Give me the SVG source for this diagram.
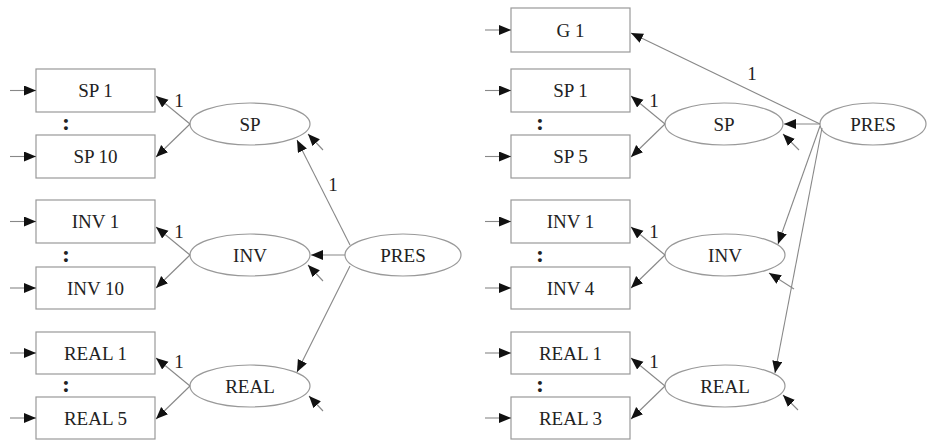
<svg xmlns="http://www.w3.org/2000/svg" width="930" height="441" viewBox="0 0 930 441">
<style>
.box{fill:#fff;stroke:#999;stroke-width:1.2}
.ell{fill:#fff;stroke:#999;stroke-width:1.2}
.t{font-family:"Liberation Serif","Times New Roman",serif;font-size:19px;fill:#222;text-anchor:middle;dominant-baseline:central}
.d{font-family:"Liberation Serif","Times New Roman",serif;font-size:24px;font-weight:bold;fill:#222;text-anchor:middle;dominant-baseline:central}
.c{stroke:#888;stroke-width:1.1;fill:none;marker-end:url(#ah)}
</style>
<defs>
<marker id="ah" markerUnits="userSpaceOnUse" markerWidth="14" markerHeight="11" refX="12" refY="5" orient="auto">
<path d="M0,0 L12,5 L0,10 Z" fill="#111"/>
</marker>
</defs>
<rect width="930" height="441" fill="#fff"/>
<!-- left boxes -->
<g id="L_SP1"><rect class="box" x="36" y="69" width="119" height="43"/><text class="t" x="95.5" y="90.5">SP 1</text></g>
<g id="L_SP10"><rect class="box" x="36" y="135" width="119" height="43"/><text class="t" x="95.5" y="156.5">SP 10</text></g>
<g id="L_INV1"><rect class="box" x="36" y="200" width="119" height="43"/><text class="t" x="95.5" y="221.5">INV 1</text></g>
<g id="L_INV10"><rect class="box" x="36" y="267" width="119" height="42"/><text class="t" x="95.5" y="288">INV 10</text></g>
<g id="L_REAL1"><rect class="box" x="36" y="332" width="119" height="42"/><text class="t" x="95.5" y="353">REAL 1</text></g>
<g id="L_REAL5"><rect class="box" x="36" y="397" width="119" height="42"/><text class="t" x="95.5" y="418">REAL 5</text></g>
<!-- left ellipses -->
<g id="L_SP"><ellipse class="ell" cx="250" cy="124" rx="60" ry="21"/><text class="t" x="250" y="124">SP</text></g>
<g id="L_INV"><ellipse class="ell" cx="250" cy="255" rx="60" ry="21"/><text class="t" x="250" y="255">INV</text></g>
<g id="L_REAL"><ellipse class="ell" cx="250" cy="386" rx="60" ry="21"/><text class="t" x="250" y="386">REAL</text></g>
<g id="L_PRES"><ellipse class="ell" cx="403" cy="255" rx="58" ry="21"/><text class="t" x="403" y="255">PRES</text></g>
<!-- right boxes -->
<g id="R_G1"><rect class="box" x="511" y="8" width="119" height="44"/><text class="t" x="570.5" y="30">G 1</text></g>
<g id="R_SP1"><rect class="box" x="511" y="69" width="119" height="43"/><text class="t" x="570.5" y="90.5">SP 1</text></g>
<g id="R_SP5"><rect class="box" x="511" y="135" width="119" height="43"/><text class="t" x="570.5" y="156.5">SP 5</text></g>
<g id="R_INV1"><rect class="box" x="511" y="200" width="119" height="43"/><text class="t" x="570.5" y="221.5">INV 1</text></g>
<g id="R_INV4"><rect class="box" x="511" y="267" width="119" height="42"/><text class="t" x="570.5" y="288">INV 4</text></g>
<g id="R_REAL1"><rect class="box" x="511" y="332" width="119" height="42"/><text class="t" x="570.5" y="353">REAL 1</text></g>
<g id="R_REAL3"><rect class="box" x="511" y="397" width="119" height="42"/><text class="t" x="570.5" y="418">REAL 3</text></g>
<!-- right ellipses -->
<g id="R_SP"><ellipse class="ell" cx="724" cy="124" rx="59" ry="21"/><text class="t" x="724" y="124">SP</text></g>
<g id="R_INV"><ellipse class="ell" cx="725" cy="255" rx="60" ry="21"/><text class="t" x="725" y="255">INV</text></g>
<g id="R_REAL"><ellipse class="ell" cx="725" cy="386" rx="60" ry="21"/><text class="t" x="725" y="386">REAL</text></g>
<g id="R_PRES"><ellipse class="ell" cx="873" cy="124" rx="53" ry="21"/><text class="t" x="873" y="124">PRES</text></g>
<g id="connectors">
<!-- left panel inputs -->
<line class="c" x1="10" y1="90.5" x2="36" y2="90.5"/>
<line class="c" x1="10" y1="156.5" x2="36" y2="156.5"/>
<line class="c" x1="10" y1="221.5" x2="36" y2="221.5"/>
<line class="c" x1="10" y1="288" x2="36" y2="288"/>
<line class="c" x1="10" y1="353" x2="36" y2="353"/>
<line class="c" x1="10" y1="418" x2="36" y2="418"/>
<!-- left loadings -->
<line class="c" x1="190" y1="124" x2="156" y2="96"/>
<line class="c" x1="190" y1="124" x2="156" y2="157"/>
<line class="c" x1="190" y1="255" x2="156" y2="227"/>
<line class="c" x1="190" y1="255" x2="156" y2="288"/>
<line class="c" x1="190" y1="386" x2="156" y2="358"/>
<line class="c" x1="190" y1="386" x2="156" y2="419"/>
<!-- left errors -->
<line class="c" x1="323" y1="150" x2="308" y2="134"/>
<line class="c" x1="323" y1="281" x2="308" y2="265"/>
<line class="c" x1="323" y1="411" x2="309" y2="396"/>
<!-- left PRES -->
<line class="c" x1="350" y1="245" x2="297" y2="140"/>
<line class="c" x1="345" y1="255" x2="311" y2="255"/>
<line class="c" x1="350" y1="266" x2="297" y2="372"/>
<!-- right panel inputs -->
<line class="c" x1="485" y1="30" x2="511" y2="30"/>
<line class="c" x1="485" y1="90.5" x2="511" y2="90.5"/>
<line class="c" x1="485" y1="156.5" x2="511" y2="156.5"/>
<line class="c" x1="485" y1="221.5" x2="511" y2="221.5"/>
<line class="c" x1="485" y1="288" x2="511" y2="288"/>
<line class="c" x1="485" y1="353" x2="511" y2="353"/>
<line class="c" x1="485" y1="418" x2="511" y2="418"/>
<!-- right loadings -->
<line class="c" x1="665" y1="124" x2="631" y2="96"/>
<line class="c" x1="665" y1="124" x2="631" y2="157"/>
<line class="c" x1="665" y1="255" x2="631" y2="227"/>
<line class="c" x1="665" y1="255" x2="631" y2="288"/>
<line class="c" x1="665" y1="386" x2="631" y2="358"/>
<line class="c" x1="665" y1="386" x2="631" y2="419"/>
<!-- right errors -->
<line class="c" x1="799" y1="150" x2="783" y2="134"/>
<line class="c" x1="794" y1="289" x2="769" y2="273"/>
<line class="c" x1="798" y1="410" x2="783" y2="395"/>
<!-- right PRES -->
<line class="c" x1="820" y1="124" x2="631" y2="33"/>
<line class="c" x1="820" y1="124" x2="784" y2="124"/>
<line class="c" x1="820" y1="126" x2="778" y2="244"/>
<line class="c" x1="822" y1="128" x2="775" y2="373"/>
</g>
<g id="labels">
<text class="t" x="179" y="100">1</text>
<text class="t" x="179" y="231">1</text>
<text class="t" x="179" y="361">1</text>
<text class="t" x="333" y="184">1</text>
<text class="t" x="654" y="100">1</text>
<text class="t" x="654" y="231">1</text>
<text class="t" x="654" y="361">1</text>
<text class="t" x="752" y="73">1</text>
<text class="d" x="66" y="122">:</text>
<text class="d" x="66" y="254">:</text>
<text class="d" x="66" y="384">:</text>
<text class="d" x="540" y="122">:</text>
<text class="d" x="540" y="254">:</text>
<text class="d" x="540" y="384">:</text>
</g>
</svg>
